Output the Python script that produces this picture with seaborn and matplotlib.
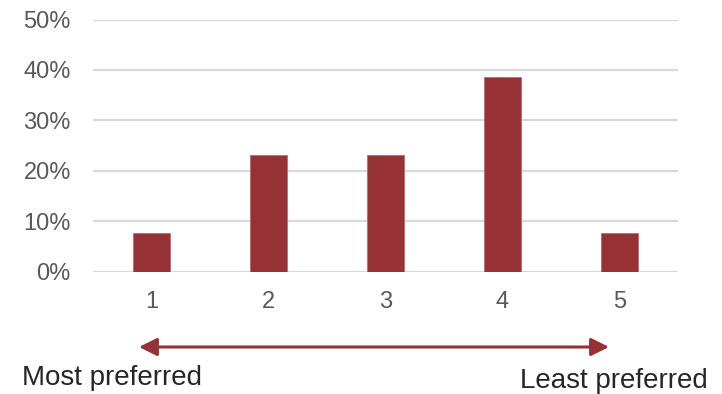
import matplotlib
matplotlib.use("Agg")
import matplotlib.pyplot as plt
import seaborn as sns
import pandas as pd
from matplotlib.ticker import PercentFormatter

categories = ["1", "2", "3", "4", "5"]
values = [0.077, 0.231, 0.231, 0.385, 0.077]
yticks = [0, 0.1, 0.2, 0.3, 0.4, 0.5]

bar_color = "#963235"

sns.set_theme(style="white")
plt.rcParams['font.family'] = ['Liberation Sans', 'DejaVu Sans']

df = pd.DataFrame({"rank": categories, "share": values})

fig = plt.figure(figsize=(7.22, 3.94), dpi=100)
ax = fig.add_axes([93/722, 1-271.5/394, (678-93)/722, (271.5-19.5)/394])

sns.barplot(data=df, x="rank", y="share", color=bar_color, width=0.31,
            saturation=1, edgecolor="#b86a6c", linewidth=0.6, ax=ax, zorder=3)

ax.set_ylim(0, 0.5)
ax.set_yticks(yticks)
ax.yaxis.set_major_formatter(PercentFormatter(1.0, decimals=0))
ax.set_xlim(-0.5, 4.5)
ax.grid(axis="y", color="#d9d9d9", linewidth=1.6, zorder=0)
ax.set_axisbelow(True)
for s in ax.spines.values():
    s.set_visible(False)
ax.tick_params(axis="both", length=0, labelsize=17, colors="#595959")
ax.tick_params(axis="y", pad=16)
ax.tick_params(axis="x", pad=14)
ax.set_xlabel("")
ax.set_ylabel("")

# preference arrow
ax_arrow = fig.add_axes([0, 0, 1, 1], facecolor="none")
ax_arrow.set_xlim(0, 722)
ax_arrow.set_ylim(394, 0)
ax_arrow.axis("off")
ax_arrow.annotate("", xy=(609, 347), xytext=(139, 347),
                  arrowprops=dict(arrowstyle="<|-|>,head_length=0.9,head_width=0.45",
                                  color=bar_color, lw=2.2, shrinkA=0, shrinkB=0))
ax_arrow.text(22, 378, "Most preferred", fontsize=20, color="#262626",
              ha="left", va="center")
ax_arrow.text(708, 381, "Least preferred", fontsize=20, color="#262626",
              ha="right", va="center")

fig.savefig("out.png", dpi=100)
